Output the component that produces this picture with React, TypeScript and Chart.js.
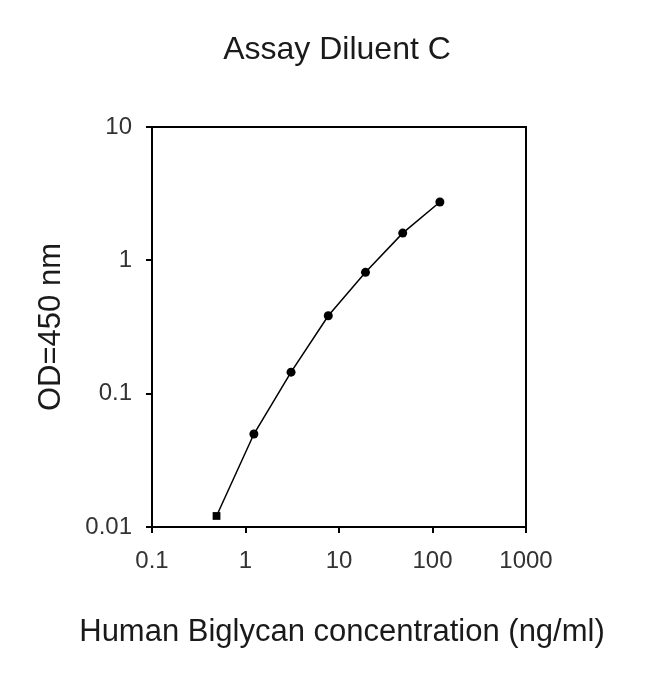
import React, { useEffect, useRef } from 'react';
import { Chart, registerables } from 'chart.js';

Chart.register(...registerables);

// concentrations (ng/ml) and optical density readings
const concentrations = [0.49, 1.23, 3.07, 7.68, 19.2, 48, 120];
const odValues = [0.0121, 0.0498, 0.145, 0.384, 0.813, 1.6, 2.74];
const pointStyles = ['rect', 'circle', 'circle', 'circle', 'circle', 'circle', 'circle'];

const xTicks = [0.1, 1, 10, 100, 1000];
const yTicks = [0.01, 0.1, 1, 10];

const chartTitle = 'Assay Diluent C';
const xTitle = 'Human Biglycan concentration (ng/ml)';
const yTitle = 'OD=450 nm';

const FONT = '"Liberation Sans", Arial, sans-serif';

// plot box edges plus the chart title and x axis title
// (drawn by hand so they are not squeezed into the plot width)
const decorations = {
  id: 'decorations',
  afterDraw(chart: Chart) {
    const { ctx, chartArea } = chart;
    ctx.save();
    ctx.strokeStyle = '#000';
    ctx.lineWidth = 2;
    ctx.beginPath();
    ctx.moveTo(chartArea.left, chartArea.top);
    ctx.lineTo(chartArea.right, chartArea.top);
    ctx.lineTo(chartArea.right, chartArea.bottom);
    ctx.stroke();

    ctx.fillStyle = '#1a1a1a';
    ctx.textAlign = 'center';
    ctx.textBaseline = 'middle';
    ctx.font = `32px ${FONT}`;
    ctx.fillText(chartTitle, 337, 50);
    ctx.font = `31px ${FONT}`;
    ctx.fillText(xTitle, 342, 632);
    ctx.restore();
  },
};

const App: React.FC = () => {
  const canvasRef = useRef<HTMLCanvasElement>(null);
  const chartRef = useRef<Chart | null>(null);

  useEffect(() => {
    if (!canvasRef.current) return;
    const ctx = canvasRef.current.getContext('2d');
    if (!ctx) return;

    chartRef.current = new Chart(ctx, {
      type: 'scatter',
      data: {
        datasets: [
          {
            data: concentrations.map((c, i) => ({ x: c, y: odValues[i] })),
            showLine: true,
            borderColor: '#000',
            borderWidth: 1.5,
            backgroundColor: '#000',
            pointStyle: pointStyles,
            pointRadius: pointStyles.map(s => (s === 'rect' ? 5.5 : 4.5)),
            pointBorderWidth: 0,
            tension: 0,
          },
        ],
      },
      options: {
        animation: false,
        responsive: true,
        maintainAspectRatio: false,
        layout: { padding: { left: 0, right: 124, top: 127, bottom: 0 } },
        plugins: {
          legend: { display: false },
          tooltip: { enabled: false },
          title: { display: false },
        },
        scales: {
          x: {
            type: 'logarithmic',
            min: 0.1,
            max: 1000,
            afterBuildTicks: scale => {
              scale.ticks = xTicks.map(v => ({ value: v }));
            },
            afterFit: scale => {
              scale.height = 147;
            },
            ticks: {
              autoSkip: false,
              maxRotation: 0,
              padding: 14,
              color: '#333',
              font: { family: FONT, size: 24 },
              callback: value => String(value),
            },
            grid: {
              drawOnChartArea: false,
              drawTicks: true,
              tickLength: 6,
              lineWidth: 2,
              color: '#000',
            },
            border: { color: '#000', width: 2 },
          },
          y: {
            type: 'logarithmic',
            min: 0.01,
            max: 10,
            afterBuildTicks: scale => {
              scale.ticks = yTicks.map(v => ({ value: v }));
            },
            afterFit: scale => {
              scale.width = 152;
            },
            ticks: {
              autoSkip: false,
              padding: 14,
              color: '#333',
              font: { family: FONT, size: 24 },
              callback: value => String(value),
            },
            grid: {
              drawOnChartArea: false,
              drawTicks: true,
              tickLength: 6,
              lineWidth: 2,
              color: '#000',
            },
            border: { color: '#000', width: 2 },
            title: {
              display: true,
              text: yTitle,
              color: '#1a1a1a',
              font: { family: FONT, size: 31 },
              padding: { top: 33, bottom: 0 },
            },
          },
        },
      },
      plugins: [decorations],
    });

    return () => {
      if (chartRef.current) {
        chartRef.current.destroy();
        chartRef.current = null;
      }
    };
  }, []);

  return (
    <div style={{ position: 'absolute', left: 0, top: 0, width: 650, height: 674, background: '#fff' }}>
      <canvas ref={canvasRef}></canvas>
    </div>
  );
};

export default App;
